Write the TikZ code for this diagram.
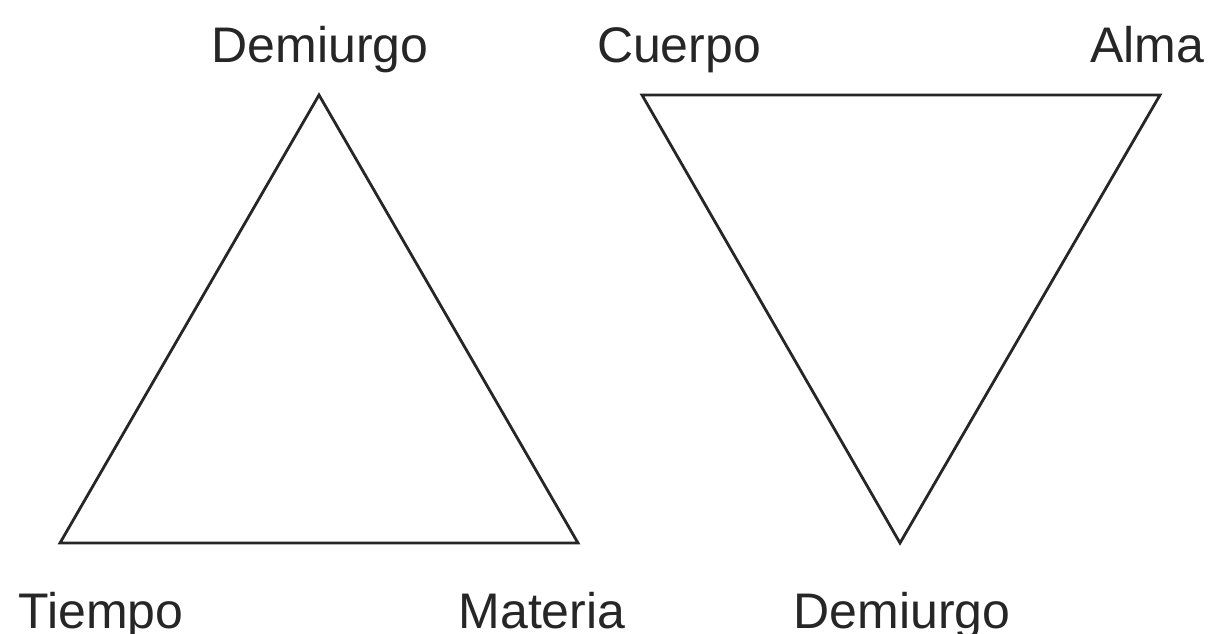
\documentclass[tikz,border=0pt]{standalone}
\usepackage{fontspec}
\setmainfont{Liberation Sans}
\begin{document}
\begin{tikzpicture}[x=0.5pt,y=-0.5pt,
  lbl/.style={anchor=base,inner sep=0pt,font=\fontsize{25}{30}\selectfont,text=black!85},
  tri/.style={draw=black!85,line width=1.4pt,line join=miter}]
\useasboundingbox (0,0) rectangle (1209,633);
% left triangle
\coordinate (LA) at (319,95);
\coordinate (LB) at (60,543);
\coordinate (LC) at (578,543);
\draw[tri] (LA) -- (LB) -- (LC) -- cycle;
% right triangle
\coordinate (RA) at (642,95);
\coordinate (RB) at (1160,95);
\coordinate (RC) at (900,543);
\draw[tri] (RA) -- (RB) -- (RC) -- cycle;
% labels
\node[lbl] (d1) at (320,62) {Demiurgo};
\node[lbl] (t) at (101,628) {Tiempo};
\node[lbl] (m) at (542,628) {Materia};
\node[lbl] (c) at (679,62) {Cuerpo};
\node[lbl] (a) at (1147,62) {Alma};
\node[lbl] (d2) at (902,628) {Demiurgo};
\end{tikzpicture}
\end{document}
